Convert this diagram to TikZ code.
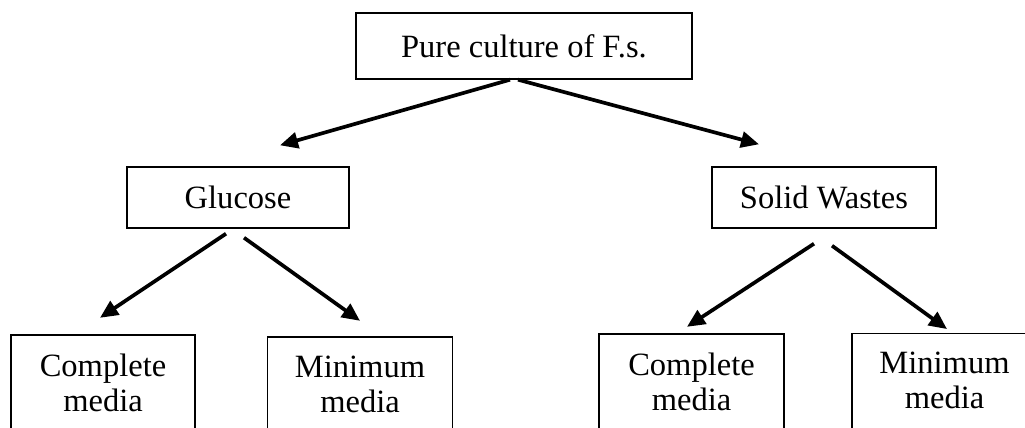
\documentclass[tikz,border=0pt]{standalone}
\usepackage{fontspec}
\setmainfont{Liberation Serif}
\usetikzlibrary{arrows.meta}

\begin{document}
\begin{tikzpicture}[
  box/.style={draw,line width=0.8pt,rectangle,inner sep=0pt,align=center,
    font={\fontsize{18.5}{20}\selectfont}},
  arr/.style={line width=2.1pt,-{Triangle[length=0.36cm,width=0.32cm]}}]

\useasboundingbox (0,0) rectangle (20.5,8.54);

% Boxes
\node[box,minimum width=6.72cm,minimum height=1.32cm] (pure) at (10.48,7.62) {Pure culture of F.s.};
\node[box,minimum width=4.44cm,minimum height=1.22cm] (glucose) at (4.76,4.59) {Glucose};
\node[box,minimum width=4.48cm,minimum height=1.22cm] (solid) at (16.48,4.59) {Solid Wastes};

% bottom row, cut off by the page edge
\node[box,minimum width=3.68cm,minimum height=1.9cm] (cmA) at (2.06,0.89) {Complete\\media};
\node[box,minimum width=3.7cm,minimum height=1.9cm] (mmA) at (7.2,0.85) {Minimum\\media};
\node[box,minimum width=3.7cm,minimum height=1.9cm] (cmB) at (13.83,0.91) {Complete\\media};
\node[box,minimum width=3.7cm,minimum height=1.9cm] (mmB) at (18.89,0.925) {Minimum\\media};

% Arrows
\draw[arr] ([xshift=-0.28cm]pure.south) -- ([shift={(0.84,0.42)}]glucose.north);
\draw[arr] ([xshift=-0.12cm]pure.south) -- ([shift={(-1.3,0.44)}]solid.north);

\draw[arr] ([shift={(-0.24,-0.1)}]glucose.south) -- ([shift={(-0.06,0.33)}]cmA.north);
\draw[arr] ([shift={(0.12,-0.18)}]glucose.south) -- ([shift={(0,0.31)}]mmA.north);

\draw[arr] ([shift={(-0.2,-0.3)}]solid.south) -- ([shift={(-0.09,0.13)}]cmB.north);
\draw[arr] ([shift={(0.16,-0.34)}]solid.south) -- ([shift={(0.05,0.07)}]mmB.north);

\end{tikzpicture}
\end{document}
